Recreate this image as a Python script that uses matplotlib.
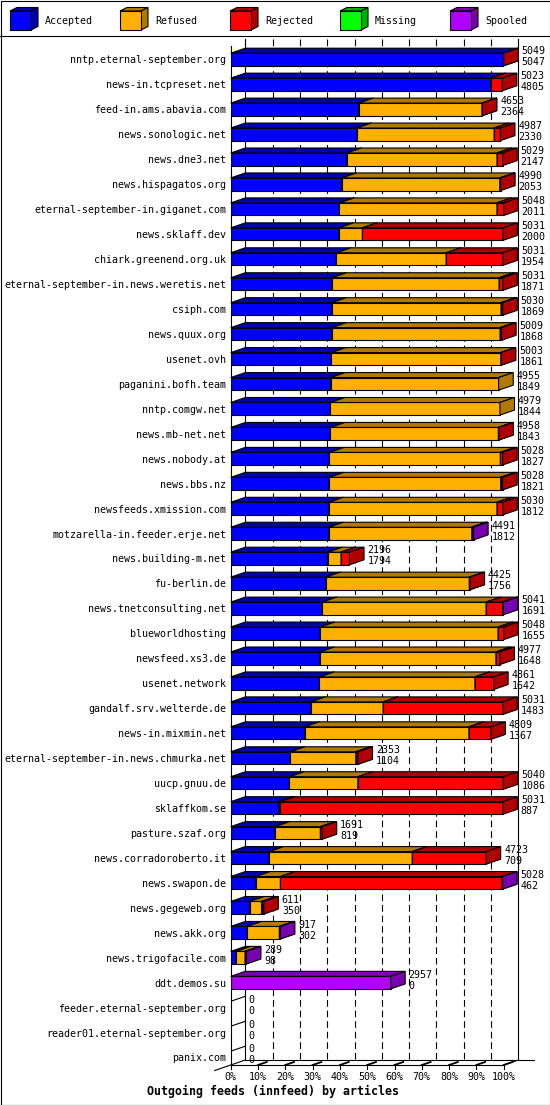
import numpy as np
import matplotlib
matplotlib.use("Agg")
import matplotlib.pyplot as plt
from matplotlib.patches import Polygon, Rectangle
from matplotlib.colors import to_rgb

hosts = ["nntp.eternal-september.org", "news-in.tcpreset.net", "feed-in.ams.abavia.com",
         "news.sonologic.net", "news.dne3.net", "news.hispagatos.org",
         "eternal-september-in.giganet.com", "news.sklaff.dev", "chiark.greenend.org.uk",
         "eternal-september-in.news.weretis.net", "csiph.com", "news.quux.org",
         "usenet.ovh", "paganini.bofh.team", "nntp.comgw.net", "news.mb-net.net",
         "news.nobody.at", "news.bbs.nz", "newsfeeds.xmission.com",
         "motzarella-in.feeder.erje.net", "news.building-m.net", "fu-berlin.de",
         "news.tnetconsulting.net", "blueworldhosting", "newsfeed.xs3.de",
         "usenet.network", "gandalf.srv.welterde.de", "news-in.mixmin.net",
         "eternal-september-in.news.chmurka.net", "uucp.gnuu.de", "sklaffkom.se",
         "pasture.szaf.org", "news.corradoroberto.it", "news.swapon.de",
         "news.gegeweb.org", "news.akk.org", "news.trigofacile.com", "ddt.demos.su",
         "feeder.eternal-september.org", "reader01.eternal-september.org", "panix.com"]

accepted = [5047, 4805, 2364, 2330, 2147, 2053, 2011, 2000, 1954, 1871, 1869, 1868,
            1861, 1849, 1844, 1843, 1827, 1821, 1812, 1812, 1794, 1756, 1691, 1655,
            1648, 1642, 1483, 1367, 1104, 1086, 887, 819, 709, 462, 350, 302, 98,
            0, 0, 0, 0]
refused = [0, 0, 2284, 2543, 2778, 2924, 2914, 436, 2031, 3093, 3131, 3115,
           3137, 3106, 3135, 3108, 3161, 3172, 3113, 2650, 247, 2657, 3033, 3289,
           3257, 2875, 1336, 3039, 1210, 1266, 27, 840, 2648, 458, 220, 599, 168,
           0, 0, 0, 0]
rejected = [2, 218, 5, 114, 104, 13, 123, 2595, 1046, 67, 30, 26,
            5, 0, 0, 7, 40, 35, 105, 4, 155, 12, 304, 104,
            72, 344, 2212, 403, 39, 2688, 4117, 32, 1366, 4100, 41, 0, 0,
            0, 0, 0, 0]
missing = [0] * 41
spooled = [0, 0, 0, 0, 0, 0, 0, 0, 0, 0, 0, 0,
           0, 0, 0, 0, 0, 0, 0, 25, 0, 0, 13, 0,
           0, 0, 0, 0, 0, 0, 0, 0, 0, 8, 0, 16, 23,
           2957, 0, 0, 0]

series = ["Accepted", "Refused", "Rejected", "Missing", "Spooled"]
colors = ["#0000ff", "#ffb000", "#ff0000", "#00ff00", "#b000ff"]

W, H = 550, 1105
mono = "DejaVu Sans Mono"
FS = 7.2


def shade(c, f=0.69):
    r, g, b = to_rgb(c)
    return (r * f, g * f, b * f)


data = np.array([accepted, refused, rejected, missing, spooled], dtype=float)
offered = data.sum(axis=0)
pct = data / offered.max() * 100
n = len(hosts)

fig = plt.figure(figsize=(W / 100, H / 100), dpi=100)

# frame + legend (pixel coords)
ov = fig.add_axes([0, 0, 1, 1])
ov.set_xlim(0, W)
ov.set_ylim(H, 0)
ov.axis("off")
ov.add_patch(Rectangle((0.5, 0.5), W - 1, H - 1, fill=False, lw=0.8, ec="black"))
ov.plot([0, W], [36, 36], color="black", lw=0.8)
for i, (name, c) in enumerate(zip(series, colors)):
    x0 = 10 + 110 * i
    y0, y1, ox, oy = 11, 30, 7, 3.5
    ov.add_patch(Polygon([(x0, y0), (x0 + 21, y0), (x0 + 21 + ox, y0 - oy), (x0 + ox, y0 - oy)],
                         fc=shade(c), ec="black", lw=0.8))
    ov.add_patch(Polygon([(x0 + 21, y0), (x0 + 21 + ox, y0 - oy), (x0 + 21 + ox, y1 - oy), (x0 + 21, y1)],
                         fc=shade(c), ec="black", lw=0.8))
    ov.add_patch(Rectangle((x0, y0), 21, y1 - y0, fc=c, ec="black", lw=0.8))
    ov.text(x0 + 35, 21, name, fontsize=FS, family=mono, va="center", ha="left")

# main plot
ax = fig.add_axes([230.7 / W, (H - 1065) / H, 273 / W, (1065 - 36) / H])
ax.set_xlim(0, 100)
ax.patch.set_alpha(0)
r0, rs = 59.5, 24.95
ax.set_ylim((1065 - r0) / rs, (36 - r0) / rs)
px = 100 / 273
py = 1 / rs
DX, DY, HH = 14.6 * px, 5 * py, 6.3 * py
back_top = (39 - r0) / rs
back_bot = (1060 - r0) / rs
front_bot = (1065 - r0) / rs
front_top = (46 - r0) / rs

for s in ax.spines.values():
    s.set_visible(False)

# back wall and grid
for k in range(1, 10):
    ax.plot([k * 10 + DX] * 2, [back_top, back_bot], color="black", lw=0.8,
            ls=(0, (6, 3.5)), zorder=1, clip_on=False)
kw = dict(color="black", lw=0.8, zorder=1, clip_on=False)
ax.plot([DX, DX], [back_top, back_bot], **kw)
ax.plot([100 + DX, 100 + DX], [back_top, back_bot], **kw)
ax.plot([0, 0], [front_top, front_bot], zorder=6, color="black", lw=0.8, clip_on=False)
ax.plot([DX, 111], [back_bot, back_bot], **kw)
ax.plot([0, 100], [front_bot, front_bot], **kw)
ax.plot([100, 100 + DX], [front_bot, back_bot], **kw)
ax.plot([-16 * px, DX], [front_bot + 5.5 * py, back_bot], **kw)
for k in range(0, 11):
    x = k * 10
    ax.plot([x, x], [front_bot, front_bot + 4 * py], **kw)
    if k > 0:
        ax.plot([x, x + 0.6 * DX], [front_bot, front_bot - 0.6 * DY], color="black",
                lw=1.3, zorder=1, clip_on=False)

# bars
for r in range(n):
    top, bot = r - HH, r + HH
    left = 0.0
    for j, c in enumerate(colors):
        w = pct[j, r]
        if w <= 0:
            continue
        x0, x1 = left, left + w
        z = 3 + r * 0.001 + j * 0.0001
        ax.add_patch(Rectangle((x0, top), w, bot - top, fc=c, ec="black", lw=0.8, zorder=z))
        ax.add_patch(Polygon([(x0, top), (x1, top), (x1 + DX, top - DY), (x0 + DX, top - DY)],
                             fc=shade(c), ec="black", lw=0.8, zorder=z, clip_on=False))
        ax.add_patch(Polygon([(x1, top), (x1 + DX, top - DY), (x1 + DX, bot - DY), (x1, bot)],
                             fc=shade(c), ec="black", lw=0.8, zorder=z, clip_on=False))
        left = x1
    if left == 0:
        ax.plot([0, DX], [top, top - DY], color="black", lw=0.8, zorder=3)
    tx = left + DX + 3.5 * px
    ax.text(tx, r - 8 * py, f"{int(offered[r])}", fontsize=FS, family=mono,
            va="center", ha="left", zorder=7, clip_on=False)
    ax.text(tx, r + 3 * py, f"{accepted[r]}", fontsize=FS, family=mono,
            va="center", ha="left", zorder=7, clip_on=False)

ax.set_yticks(range(n))
ax.set_yticklabels(hosts, fontsize=FS, family=mono)
ax.set_xticks(range(0, 101, 10))
ax.set_xticklabels([f"{k}%" for k in range(0, 101, 10)], fontsize=FS, family=mono)
ax.tick_params(axis="both", length=0)
ax.tick_params(axis="y", pad=3.2)
ax.tick_params(axis="x", pad=5)

fig.text(273 / W, 1 - 1091 / H, "Outgoing feeds (innfeed) by articles", ha="center",
         va="center", fontsize=8.4, family=mono, weight="bold")

fig.savefig("out.png", dpi=100)
